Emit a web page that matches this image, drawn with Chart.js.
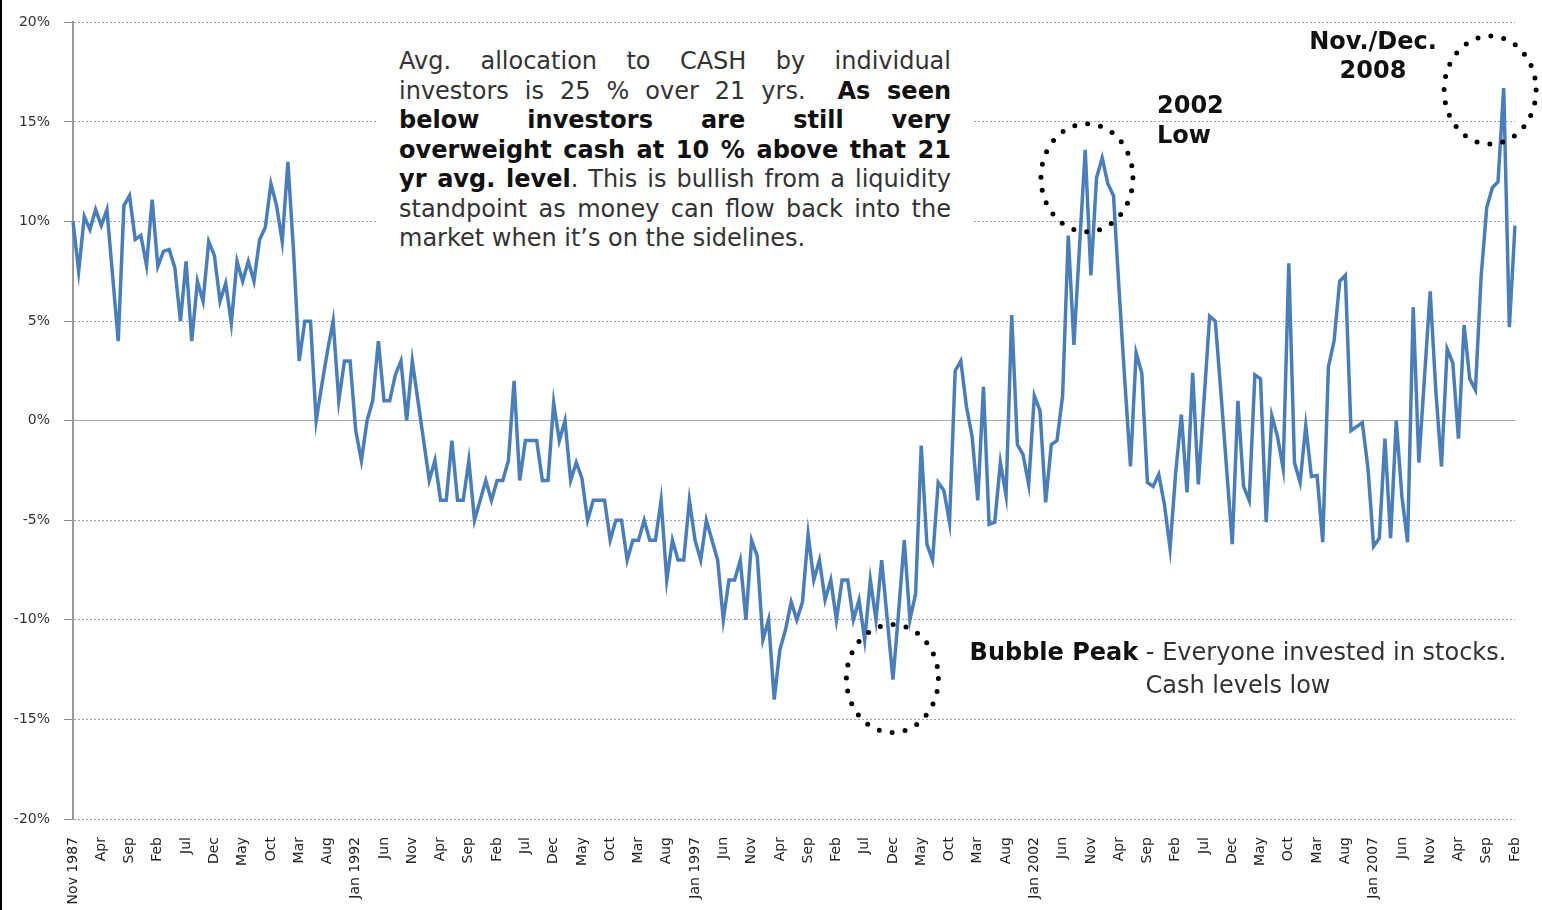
<!DOCTYPE html>
<html>
<head>
<meta charset="utf-8">
<title>Avg. allocation to cash by individual investors</title>
<script src="https://cdn.jsdelivr.net/npm/chart.js@4.4.1/dist/chart.umd.min.js"></script>
<style>
    body { margin: 0; background: #fff; }
    #wrap { position: relative; width: 1542px; height: 910px; overflow: hidden; }
    #edge { position: absolute; left: 0; top: 0; width: 2px; height: 910px; background: #000; }
    .note { position: absolute; font-family: 'DejaVu Sans', Verdana, sans-serif; font-size: 24px; color: #333; }
    .note b { color: #111; }
    #cashNote { left: 378px; top: 35px; width: 552px; padding: 12px 21px 13px 21px; background: #fff; line-height: 29.5px; }
    #cashNote div { text-align: justify; text-align-last: justify; }
    #cashNote div.last { text-align-last: left; }
    #lowNote { left: 1157px; top: 90px; line-height: 30px; font-weight: bold; color: #111; }
    #peakNote { left: 1263px; top: 27px; width: 220px; line-height: 29px; text-align: center; font-weight: bold; color: #111; }
    #bubbleNote { left: 918px; top: 636px; width: 640px; line-height: 33px; text-align: center; }
</style>
</head>
<body>
<div id="wrap">
    <canvas id="cashChart" width="1542" height="910"></canvas>
    <div id="edge"></div>
    <div class="note" id="cashNote">
        <div>Avg. allocation to CASH by individual</div>
        <div>investors is 25 % over 21 yrs. &nbsp;<b>As seen</b></div>
        <div><b>below investors are still very</b></div>
        <div><b>overweight cash at 10 % above that 21</b></div>
        <div><b>yr avg. level</b>. This is bullish from a liquidity</div>
        <div>standpoint as money can flow back into the</div>
        <div class="last">market when it’s on the sidelines.</div>
    </div>
    <div class="note" id="lowNote">2002<br>Low</div>
    <div class="note" id="peakNote">Nov./Dec.<br>2008</div>
    <div class="note" id="bubbleNote"><b>Bubble Peak</b> - Everyone invested in stocks.<br>Cash levels low</div>
</div>
<script>
// Monthly cash allocation vs. 21 yr average (%), Nov 1987 - Feb 2009
const cashValues = [
    10.0, 7.5, 10.25, 9.6, 10.6, 9.8, 10.6, 7.3, 4.0, 10.8, 11.3, 9.1, 9.3, 7.8,
    11.1, 7.75, 8.5, 8.6, 7.7, 5.0, 8.0, 4.0, 7.0, 6.0, 9.0, 8.3,
    6.0, 6.9, 4.9, 8.0, 7.0, 8.0, 7.0, 9.1, 9.7, 11.9, 10.8, 9.0,
    13.0, 8.5, 3.0, 5.0, 5.0, 0.0, 1.8, 3.5, 5.0, 1.0, 3.0, 3.0,
    -0.5, -2.0, 0.0, 1.0, 4.0, 1.0, 1.0, 2.3, 3.0, 0.0, 3.0, 1.0,
    -1.0, -3.0, -2.0, -4.0, -4.0, -1.0, -4.0, -4.0, -2.0, -5.0, -4.0, -3.0,
    -4.0, -3.0, -3.0, -2.0, 2.0, -3.0, -1.0, -1.0, -1.0, -3.0, -3.0, 0.9,
    -1.0, 0.0, -3.0, -2.1, -2.9, -5.0, -4.0, -4.0, -4.0, -6.0, -5.0, -5.0,
    -7.0, -6.0, -6.0, -5.0, -6.0, -6.0, -4.0, -8.0, -6.0, -7.0, -7.0, -4.0,
    -6.0, -7.0, -5.0, -6.0, -7.0, -10.0, -8.0, -8.0, -7.0, -10.0, -6.0, -6.8,
    -11.0, -10.0, -14.0, -11.5, -10.5, -9.1, -10.0, -9.1, -5.7, -8.0, -7.0, -9.0,
    -8.0, -10.0, -8.0, -8.0, -10.0, -9.0, -11.0, -8.0, -10.0, -7.0, -10.0, -13.0,
    -9.6, -6.0, -10.0, -8.7, -1.25, -6.2, -7.0, -3.1, -3.5, -5.1, 2.5, 3.0,
    0.7, -0.8, -4.0, 1.7, -5.2, -5.1, -2.1, -3.75, 5.3, -1.2, -1.7, -3.2,
    1.25, 0.5, -4.1, -1.2, -1.0, 1.25, 9.3, 3.8, 8.8, 13.6, 7.3, 12.2,
    13.2, 11.9, 11.3, 6.5, 2.0, -2.3, 3.4, 2.4, -3.1, -3.3, -2.7, -4.2,
    -6.4, -2.6, 0.3, -3.6, 2.4, -3.2, 1.0, 5.25, 5.0, 1.4, -2.4, -6.2,
    1.0, -3.3, -4.0, 2.3, 2.1, -5.1, 0.25, -0.8, -2.4, 7.9, -2.1, -3.1,
    -0.25, -2.8, -2.75, -6.1, 2.7, 4.0, 7.0, 7.3, -0.5, -0.3, -0.1, -2.4,
    -6.3, -5.9, -0.9, -5.9, 0.0, -3.8, -6.1, 5.7, -2.1, 2.2, 6.5, 1.5,
    -2.3, 3.6, 2.9, -0.9, 4.8, 2.1, 1.55, 7.2, 10.7, 11.7, 12.0, 16.7,
    4.7, 9.8
];

// Axis labels, one every 5 months
const tickLabels = [
    'Nov 1987', 'Apr', 'Sep', 'Feb', 'Jul', 'Dec', 'May', 'Oct', 'Mar', 'Aug',
    'Jan 1992', 'Jun', 'Nov', 'Apr', 'Sep', 'Feb', 'Jul', 'Dec', 'May', 'Oct', 'Mar', 'Aug',
    'Jan 1997', 'Jun', 'Nov', 'Apr', 'Sep', 'Feb', 'Jul', 'Dec', 'May', 'Oct', 'Mar', 'Aug',
    'Jan 2002', 'Jun', 'Nov', 'Apr', 'Sep', 'Feb', 'Jul', 'Dec', 'May', 'Oct', 'Mar', 'Aug',
    'Jan 2007', 'Jun', 'Nov', 'Apr', 'Sep', 'Feb'
];
const labelStep = 5;

const monthNames = ['Jan', 'Feb', 'Mar', 'Apr', 'May', 'Jun', 'Jul', 'Aug', 'Sep', 'Oct', 'Nov', 'Dec'];
const startYear = 1987;
const startMonth = 10; // Nov

// Dotted circles: centred on a month index and a value
const circleMarks = [
    { index: 179.3, value: 12.2 },   // 2002 Low
    { index: 250.6, value: 16.6 },   // Nov./Dec. 2008
    { index: 144.9, value: -12.95 }  // Bubble Peak
];

// Month categories
const months = [];
for (let i = 0; i < cashValues.length; i++) {
    const m = startMonth + i;
    months.push(monthNames[m % 12] + ' ' + (startYear + Math.floor(m / 12)));
}

// Draw dotted ellipses around the marked spots
const dottedCircles = {
    id: 'dottedCircles',
    afterDatasetsDraw(chart) {
        const { ctx, scales: { x, y } } = chart;
        const rx = 46, ry = 54;
        const perim = 2 * Math.PI * Math.sqrt((rx * rx + ry * ry) / 2);
        circleMarks.forEach(mark => {
            const cx = x.getPixelForValue(mark.index);
            const cy = y.getPixelForValue(mark.value);
            ctx.save();
            ctx.beginPath();
            ctx.ellipse(cx, cy, rx, ry, 0, 0, Math.PI * 2);
            ctx.setLineDash([0, perim / 24]);
            ctx.lineCap = 'round';
            ctx.lineWidth = 5;
            ctx.strokeStyle = '#000';
            ctx.stroke();
            ctx.restore();
        });
    }
};

new Chart(document.getElementById('cashChart'), {
    type: 'line',
    data: {
        labels: months,
        datasets: [{
            data: cashValues,
            borderColor: '#4a7ebb',
            borderWidth: 3.5,
            pointRadius: 0,
            tension: 0,
            fill: false
        }]
    },
    options: {
        responsive: false,
        animation: false,
        layout: { padding: { top: 20, right: 27, left: 0, bottom: 0 } },
        plugins: {
            legend: { display: false },
            tooltip: { enabled: false }
        },
        scales: {
            x: {
                grid: { display: false, drawTicks: false },
                border: { display: false },
                ticks: {
                    autoSkip: false,
                    minRotation: 90,
                    maxRotation: 90,
                    padding: 18,
                    color: '#222',
                    font: { family: 'DejaVu Sans', size: 14 },
                    callback: function(value, i) {
                        return i % labelStep === 0 ? tickLabels[i / labelStep] : null;
                    }
                },
                afterFit: function(scale) {
                    scale.height = 91;
                    scale.paddingLeft = 0;
                    scale.paddingRight = 0;
                }
            },
            y: {
                min: -20,
                max: 20,
                ticks: {
                    stepSize: 5,
                    padding: 14,
                    color: '#333',
                    font: { family: 'DejaVu Sans', size: 14 },
                    callback: function(value) { return value + '%'; }
                },
                grid: {
                    color: ctx => ctx.tick && ctx.tick.value === 0 ? '#aaa' : '#a0a0a0',
                    lineWidth: 1,
                    tickLength: 9,
                    tickColor: '#888',
                    tickBorderDash: []
                },
                border: {
                    display: true,
                    color: '#999',
                    width: 2,
                    dash: ctx => ctx.tick && ctx.tick.value === 0 ? [] : [2, 2]
                },
                afterFit: function(scale) { scale.width = 73; }
            }
        }
    },
    plugins: [dottedCircles]
});
</script>
</body>
</html>
